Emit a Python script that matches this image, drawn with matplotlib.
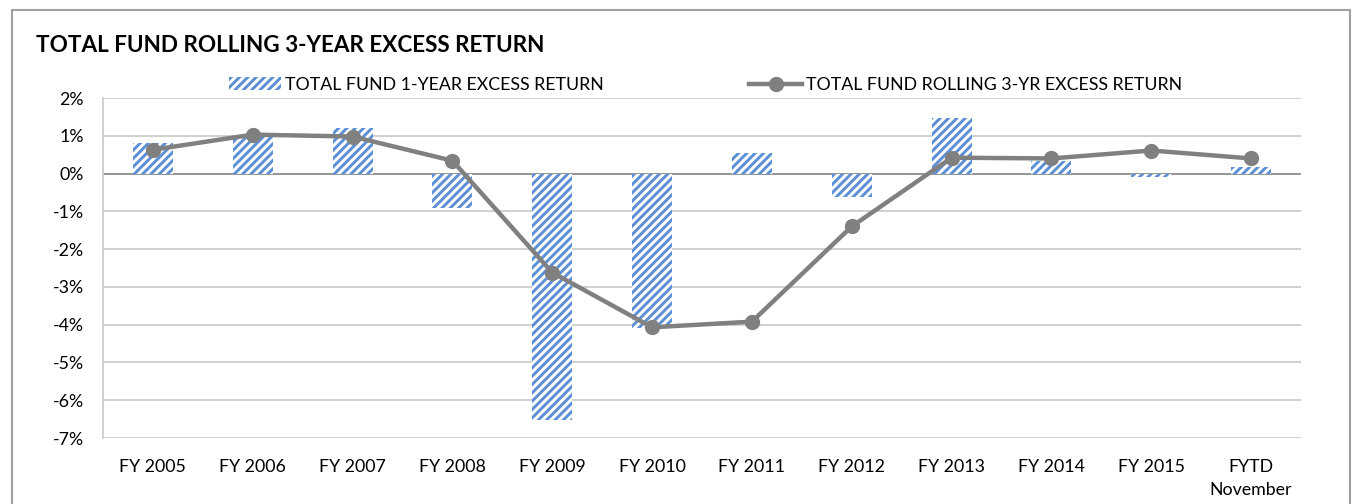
import matplotlib
matplotlib.use("Agg")
import matplotlib.pyplot as plt
from matplotlib.patches import Rectangle, Patch
from matplotlib.lines import Line2D
import numpy as np

categories = ["FY 2005", "FY 2006", "FY 2007", "FY 2008", "FY 2009", "FY 2010",
              "FY 2011", "FY 2012", "FY 2013", "FY 2014", "FY 2015", "FYTD\nNovember"]
one_year_excess = [0.80, 1.00, 1.20, -0.90, -6.52, -4.10, 0.55, -0.62, 1.48, 0.34, -0.08, 0.18]
rolling_3yr_excess = [0.63, 1.03, 0.98, 0.34, -2.62, -4.07, -3.92, -1.40, 0.42, 0.40, 0.61, 0.40]
yticks = [2, 1, 0, -1, -2, -3, -4, -5, -6, -7]
title = "TOTAL FUND ROLLING 3-YEAR EXCESS RETURN"
bar_label = "TOTAL FUND 1-YEAR EXCESS RETURN"
line_label = "TOTAL FUND ROLLING 3-YR EXCESS RETURN"

plt.rcParams['font.family'] = ['Lato', 'DejaVu Sans']
plt.rcParams['hatch.linewidth'] = 2.1

W, H = 1359, 504
fig = plt.figure(figsize=(W / 100, H / 100), dpi=100)
ax = fig.add_axes([103 / W, 1 - 438 / H, (1301 - 103) / W, (438 - 98) / H])

blue = "#5b8fd6"
gray = "#808080"
x = np.arange(len(categories))

ax.bar(x, one_year_excess, width=0.4, facecolor="white", edgecolor=blue,
       hatch="////", linewidth=0, zorder=2)
ax.plot(x, rolling_3yr_excess, color=gray, linewidth=3.2, marker="o",
        markersize=10, zorder=3)

ax.set_xlim(-0.5, len(categories) - 0.5)
ax.set_ylim(-7, 2)
ax.set_yticks(yticks)
ax.set_yticklabels([f"{v}%" for v in yticks])
ax.set_xticks(x)
ax.set_xticklabels(categories, linespacing=1.55)
ax.tick_params(axis="both", length=0, labelsize=12.8, colors="black")
ax.tick_params(axis="x", pad=15)
ax.tick_params(axis="y", pad=14)
ax.grid(axis="y", color="#c8c8c8", linewidth=1.2, zorder=0)
ax.set_axisbelow(True)
for s in ["top", "right", "bottom"]:
    ax.spines[s].set_visible(False)
ax.spines["left"].set_color("#c8c8c8")
ax.spines["left"].set_linewidth(1.2)
ax.axhline(0, color="#8c8c8c", linewidth=1.2, zorder=1)

fig.text(36 / W, 1 - 45 / H, title, fontsize=16.2, fontweight="bold",
         va="center", ha="left")

h1 = Patch(facecolor="white", edgecolor=blue, hatch="////", linewidth=0)
h2 = Line2D([0], [0], color=gray, linewidth=3.2, marker="o", markersize=10)
leg1 = fig.legend([h1], [bar_label], loc="center left",
                  bbox_to_anchor=(229 / W, 1 - 85 / H), frameon=False,
                  fontsize=12.8, handlelength=2.9, handleheight=0.75,
                  handletextpad=0.25, borderaxespad=0, borderpad=0)
leg2 = fig.legend([h2], [line_label], loc="center left",
                  bbox_to_anchor=(749 / W, 1 - 85 / H), frameon=False,
                  fontsize=12.8, handlelength=3.0, handletextpad=0.22,
                  borderaxespad=0, borderpad=0)

fig.patches.append(Rectangle((12 / W, -0.02), (1350 - 12) / W, 1.02 - 10 / H,
                             transform=fig.transFigure, fill=False,
                             edgecolor="#a0a0a0", linewidth=1.5))

fig.savefig("out.png", dpi=100)
